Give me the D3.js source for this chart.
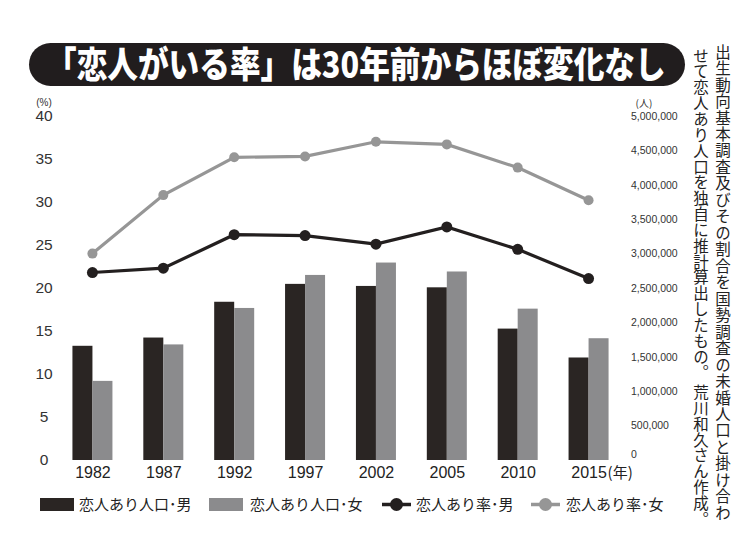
<!DOCTYPE html>
<html>
<head>
<meta charset="utf-8">
<script src="https://cdn.jsdelivr.net/npm/d3@7"></script>
<style>
  body { margin: 0; background: #fff; }
  svg { display: block; }
  .jp { font-family: "Noto Sans CJK JP", "Noto Sans", sans-serif; }
  .num { font-family: "Liberation Sans", Arial, sans-serif; }
</style>
</head>
<body>
<svg id="chart" width="750" height="558"></svg>
<script>
// data
var years = ["1982", "1987", "1992", "1997", "2002", "2005", "2010", "2015"];
var popMale = [1660000, 1780000, 2300000, 2560000, 2530000, 2510000, 1910000, 1490000];
var popFemale = [1150000, 1680000, 2210000, 2690000, 2870000, 2740000, 2200000, 1770000];
var rateMale = [21.8, 22.3, 26.2, 26.1, 25.1, 27.1, 24.5, 21.1];
var rateFemale = [24.0, 30.8, 35.2, 35.3, 37.0, 36.7, 34.0, 30.2];
var rateTicks = [0, 5, 10, 15, 20, 25, 30, 35, 40];
var popTicks = d3.range(0, 5000001, 500000);
var legendLabels = ["恋人あり人口･男", "恋人あり人口･女", "恋人あり率･男", "恋人あり率･女"];
var title = "「恋人がいる率」は30年前からほぼ変化なし";
var note1 = "出生動向基本調査及びその割合を国勢調査の未婚人口と掛け合わ";
var note2 = "せて恋人あり人口を独自に推計算出したもの。 荒川和久さん作成。";

var DARK = "#2a2523", GRAY = "#8b8b8d", LGRAY = "#969696";

var svg = d3.select("#chart");

// title pill
svg.append("rect")
    .attr("x", 29).attr("y", 43).attr("width", 656).attr("height", 43)
    .attr("rx", 21.5).attr("fill", "#211d1e");
var titleText = svg.append("text")
    .attr("class", "jp")
    .attr("x", 0).attr("y", 0)
    .attr("fill", "#fff").attr("font-size", 36).attr("font-weight", 900)
    .text(title);
// squeeze the title sideways to fit the pill, like the condensed original
var tw = titleText.node().getComputedTextLength();
titleText.attr("transform", "translate(46,78) scale(" + (620 / tw) + ",1)");

// scales
var x = d3.scalePoint().domain(years).range([57, 624]).padding(0.5);
var yRate = d3.scaleLinear().domain([0, 40]).range([460, 116]);
var yPop = d3.scaleLinear().domain([0, 5000000]).range([460, 116]);
var barW = 20;

// left axis
var leftAx = svg.append("g").attr("class", "num")
    .attr("transform", "translate(44,0)")
    .call(d3.axisLeft(yRate).tickValues(rateTicks).tickSize(0).tickPadding(0));
leftAx.select(".domain").remove();
leftAx.selectAll("text").attr("text-anchor", "middle").attr("font-size", 15.5)
    .attr("font-family", "Liberation Sans, Arial, sans-serif").attr("fill", "#333");
svg.append("text").attr("class", "num").attr("x", 44).attr("y", 106)
    .attr("text-anchor", "middle").attr("font-size", 10).attr("fill", "#333").text("(%)");

// right axis
var rightAx = svg.append("g").attr("class", "num")
    .attr("transform", "translate(631,0)")
    .call(d3.axisRight(yPop).tickValues(popTicks).tickSize(0).tickPadding(0)
        .tickFormat(d3.format(",")));
rightAx.select(".domain").remove();
rightAx.selectAll("text").attr("font-size", 10.5)
    .attr("font-family", "Liberation Sans, Arial, sans-serif").attr("fill", "#333");
rightAx.selectAll(".tick").filter(function(d){ return d === 0; })
    .select("text").attr("dy", "-0.2em");
svg.append("text").attr("class", "jp").attr("x", 644).attr("y", 107)
    .attr("text-anchor", "middle").attr("font-size", 10).attr("fill", "#333").text("(人)");

// x labels
var xAx = svg.append("g").attr("class", "num")
    .attr("transform", "translate(0,464)")
    .call(d3.axisBottom(x).tickSize(0).tickPadding(0));
xAx.select(".domain").remove();
xAx.selectAll("text").attr("font-size", 16).attr("dy", "0.9em")
    .attr("font-family", "Liberation Sans, Arial, sans-serif").attr("fill", "#222");
svg.append("text").attr("class", "jp")
    .attr("x", x("2015") + 19).attr("y", 478)
    .attr("font-size", 15).attr("fill", "#222").text("(年)");

// bars
svg.append("g").selectAll("rect").data(years).join("rect")
    .attr("x", function(d){ return x(d) - barW; })
    .attr("y", function(d, i){ return yPop(popMale[i]); })
    .attr("width", barW)
    .attr("height", function(d, i){ return yPop(0) - yPop(popMale[i]); })
    .attr("fill", DARK);
svg.append("g").selectAll("rect").data(years).join("rect")
    .attr("x", function(d){ return x(d); })
    .attr("y", function(d, i){ return yPop(popFemale[i]); })
    .attr("width", barW)
    .attr("height", function(d, i){ return yPop(0) - yPop(popFemale[i]); })
    .attr("fill", GRAY);

// lines
function drawLine(vals, color, r){
    var line = d3.line()
        .x(function(d, i){ return x(years[i]); })
        .y(function(d){ return yRate(d); });
    svg.append("path").attr("d", line(vals))
        .attr("fill", "none").attr("stroke", color).attr("stroke-width", 3.2);
    svg.append("g").selectAll("circle").data(vals).join("circle")
        .attr("cx", function(d, i){ return x(years[i]); })
        .attr("cy", function(d){ return yRate(d); })
        .attr("r", r).attr("fill", color);
}
drawLine(rateFemale, LGRAY, 5);
drawLine(rateMale, "#231f1f", 5.5);

// legend
var lg = svg.append("g").attr("class", "jp");
lg.append("rect").attr("x", 40).attr("y", 498).attr("width", 34).attr("height", 13).attr("fill", DARK);
lg.append("rect").attr("x", 209).attr("y", 498).attr("width", 34).attr("height", 13).attr("fill", GRAY);
lg.append("line").attr("x1", 382).attr("x2", 411).attr("y1", 504.5).attr("y2", 504.5)
    .attr("stroke", "#231f1f").attr("stroke-width", 3.5);
lg.append("circle").attr("cx", 396.5).attr("cy", 504.5).attr("r", 6.5).attr("fill", "#231f1f");
lg.append("line").attr("x1", 531).attr("x2", 560).attr("y1", 504.5).attr("y2", 504.5)
    .attr("stroke", LGRAY).attr("stroke-width", 3.5);
lg.append("circle").attr("cx", 545.5).attr("cy", 504.5).attr("r", 6.5).attr("fill", LGRAY);
var legX = [79, 250, 416, 566];
lg.selectAll("text").data(legendLabels).join("text")
    .attr("x", function(d, i){ return legX[i]; })
    .attr("y", 510)
    .attr("font-size", 15).attr("fill", "#222")
    .text(function(d){ return d; });

// vertical note, spaced out to the column length of the original
function vNote(str, cx, top, bottom){
    var t = svg.append("text").attr("class", "jp")
        .attr("x", cx).attr("y", top)
        .style("writing-mode", "vertical-rl")
        .attr("font-size", 15.5).attr("fill", "#222").text(str);
    var h = t.node().getBBox().height;
    var n = Array.from(str).length;
    t.style("letter-spacing", ((bottom - top - h) / n) + "px");
}
vNote(note1, 723, 44, 522);
vNote(note2, 701, 48, 527);
</script>
</body>
</html>
